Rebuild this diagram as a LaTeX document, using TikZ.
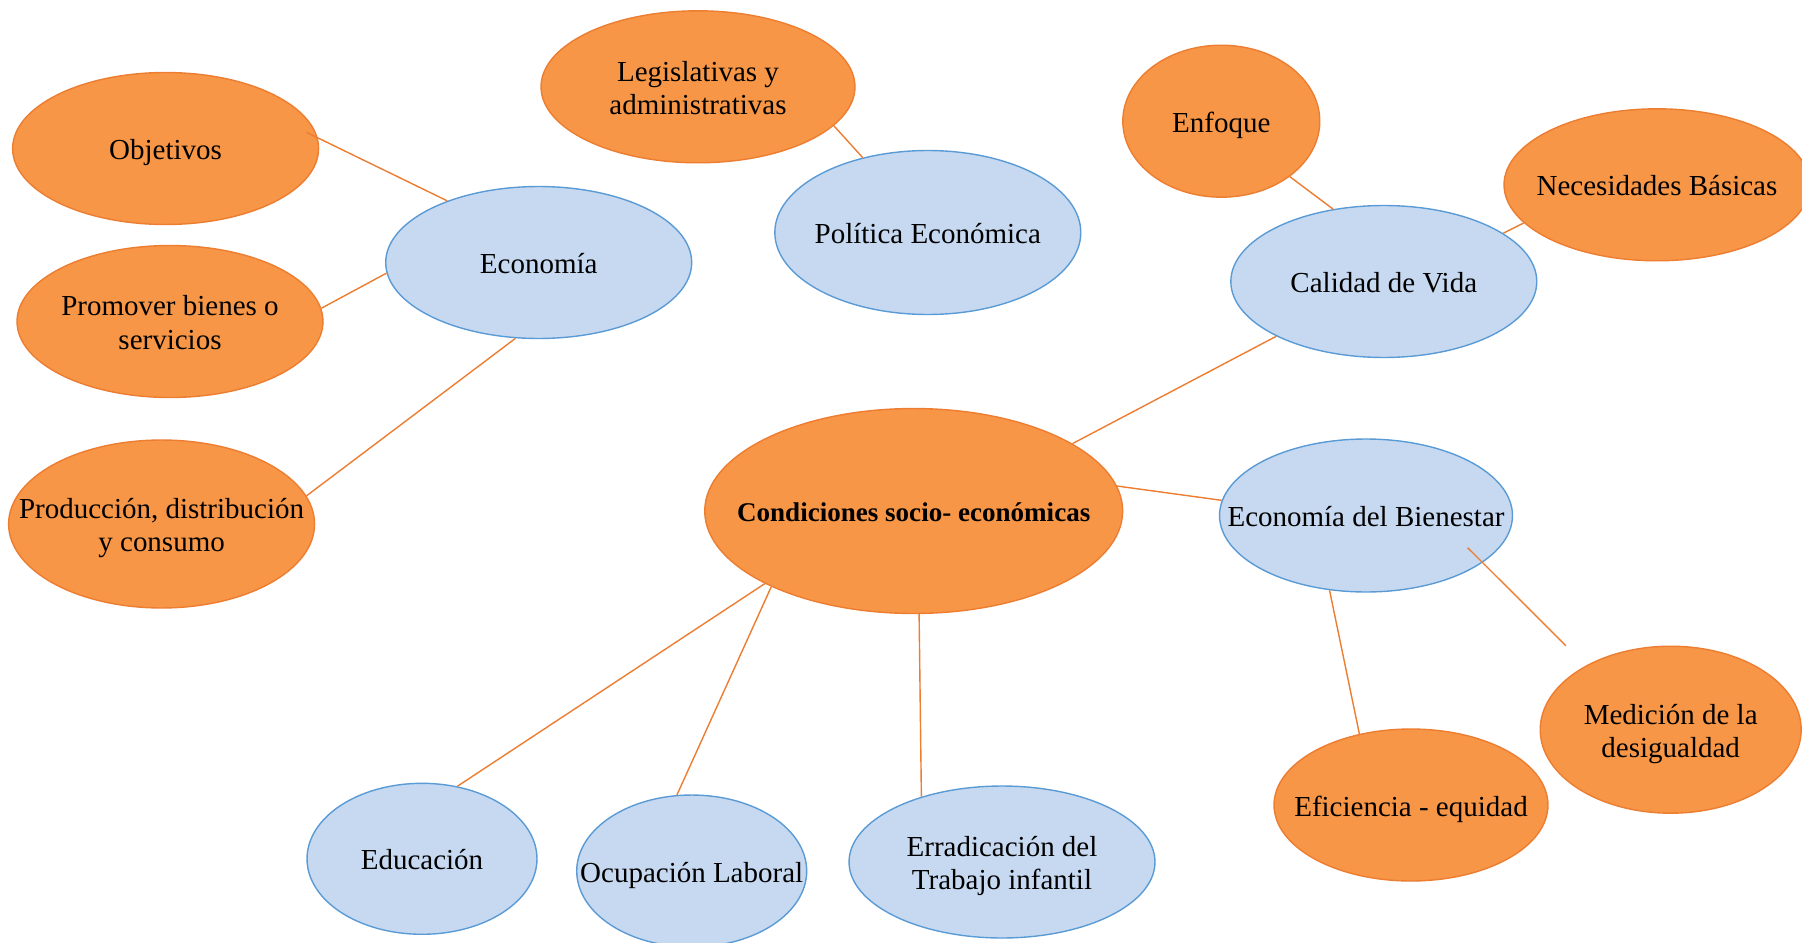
\documentclass[tikz,border=0pt]{standalone}
\usepackage{fontspec}
\setmainfont{Liberation Serif}
\usetikzlibrary{shapes.geometric}
\definecolor{bubbleorange}{RGB}{247,150,70}
\definecolor{edgeorange}{RGB}{237,125,49}
\definecolor{bubbleblue}{RGB}{198,217,241}
\definecolor{edgeblue}{RGB}{91,155,213}
\newcommand{\bubtext}[1]{\makebox[0pt]{\raisebox{-2.5pt}[\height][\depth]{\begin{tabular}{@{}c@{}}#1\end{tabular}}}}

\begin{document}
\begin{tikzpicture}[x=0.02cm, y=-0.02cm,
    orangebub/.style={ellipse, draw=edgeorange, fill=bubbleorange, line width=0.8pt, inner sep=0pt},
    bluebub/.style={ellipse, draw=edgeblue, fill=bubbleblue, line width=0.8pt, inner sep=0pt},
    link/.style={edgeorange, line width=0.8pt},
    font=\fontsize{16.5}{19}\selectfont]
    \useasboundingbox (0,0) rectangle (1802,943);

    % Central topic
    \node[orangebub, minimum width=8.36cm, minimum height=4.1cm, font=\fontsize{15.4}{18}\selectfont\bfseries] (cond) at (913.7,511) {\bubtext{Condiciones socio- económicas}};

    % Economia branch
    \node[bluebub, minimum width=6.12cm, minimum height=3.04cm] (eco) at (538.7,262.5) {\bubtext{Economía}};
    \node[orangebub, minimum width=6.12cm, minimum height=3.04cm] (obj) at (165.6,148.5) {\bubtext{Objetivos}};
    \node[orangebub, minimum width=6.12cm, minimum height=3.04cm] (prom) at (170,321.5) {\bubtext{Promover bienes o\\servicios}};
    \node[orangebub, minimum width=6.12cm, minimum height=3.36cm] (prod) at (161.6,524) {\bubtext{Producción, distribución\\y consumo}};

    % Politica branch
    \node[bluebub, minimum width=6.12cm, minimum height=3.28cm] (pol) at (927.8,232.5) {\bubtext{Política Económica}};
    \node[orangebub, minimum width=6.28cm, minimum height=3.04cm] (leg) at (698,86.8) {\bubtext{Legislativas y\\administrativas}};

    % Calidad de vida branch
    \node[bluebub, minimum width=6.12cm, minimum height=3.04cm] (cal) at (1383.8,281.5) {\bubtext{Calidad de Vida}};
    \node[orangebub, minimum width=3.94cm, minimum height=3.04cm] (enf) at (1221.3,121.2) {\bubtext{Enfoque}};
    \node[orangebub, minimum width=6.12cm, minimum height=3.04cm] (nec) at (1657,184.8) {\bubtext{Necesidades Básicas}};

    % Economia del bienestar branch
    \node[bluebub, minimum width=5.86cm, minimum height=3.06cm] (edb) at (1366,515.5) {\bubtext{Economía del Bienestar}};
    \node[orangebub, minimum width=5.48cm, minimum height=3.04cm] (efi) at (1411,805) {\bubtext{Eficiencia - equidad}};
    \node[orangebub, minimum width=5.22cm, minimum height=3.34cm] (med) at (1670.7,729.7) {\bubtext{Medición de la\\desigualdad}};

    % Lower topics
    \node[bluebub, minimum width=4.6cm, minimum height=3.02cm] (edu) at (422,858.8) {\bubtext{Educación}};
    \node[bluebub, minimum width=4.6cm, minimum height=3.04cm] (ocu) at (691.7,871) {\bubtext{Ocupación Laboral}};
    \node[bluebub, minimum width=6.12cm, minimum height=3.04cm] (err) at (1002,862) {\bubtext{Erradicación del\\Trabajo infantil}};

    % Connectors
    \foreach \a/\b in {prom.5/eco.184, eco.253/prod.11, leg.344/pol.131,
                       enf.321/cal.125, nec.196/cal.22, cal.207/cond.23, cond.7/edb.174,
                       edb.244/efi.126, cond.206/edu.64, cond.208/ocu.101,
                       cond.273/err.141} {
        \draw[link] (\a) -- (\b);
    }
    \draw[link, shorten <=-7pt] (obj.4) -- (eco.146);
    \draw[link, shorten <=-12pt, shorten >=16pt] (edb.338) -- (med.143);
\end{tikzpicture}
\end{document}
